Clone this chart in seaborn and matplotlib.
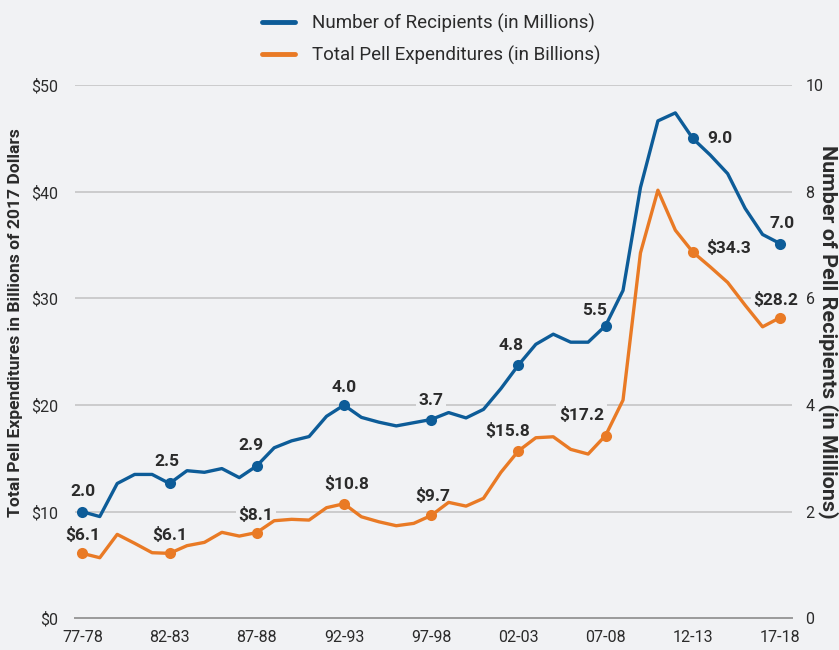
import matplotlib
matplotlib.use("Agg")
import matplotlib.pyplot as plt
from matplotlib.lines import Line2D
import seaborn as sns
import pandas as pd

# award years 1977-78 .. 2017-18 (start year)
years = list(range(1977, 2018))

recipients = [2.0, 1.91, 2.53, 2.70, 2.70, 2.53, 2.77, 2.74, 2.81, 2.64,
              2.86, 3.20, 3.33, 3.41, 3.79, 4.0, 3.77, 3.68, 3.61, 3.67,
              3.73, 3.86, 3.76, 3.92, 4.31, 4.75, 5.14, 5.33, 5.18, 5.18,
              5.49, 6.15, 8.08, 9.33, 9.48, 9.0, 8.69, 8.34, 7.69, 7.20,
              7.03]

expenditures = [6.1, 5.69, 7.88, 7.04, 6.16, 6.1, 6.82, 7.13, 8.07, 7.72,
                8.05, 9.16, 9.29, 9.22, 10.38, 10.75, 9.53, 9.06, 8.69, 8.91,
                9.65, 10.88, 10.53, 11.26, 13.7, 15.7, 16.94, 17.03, 15.85, 15.41,
                17.15, 20.47, 34.27, 40.15, 36.4, 34.35, 32.96, 31.5, 29.37, 27.34,
                28.2]

recip_labels = ["2.0", "2.5", "2.9", "4.0", "3.7", "4.8", "5.5", "9.0", "7.0"]
exp_labels = ["$6.1", "$6.1", "$8.1", "$10.8", "$9.7", "$15.8", "$17.2", "$34.3", "$28.2"]

# label offsets in pixels (dx, dy up) and horizontal alignment
recip_offsets = [(1, 20, "center"), (-3, 22, "center"), (-6, 20, "center"),
                 (0, 18, "center"), (0, 19, "center"), (-7, 20, "center"),
                 (-11, 15, "center"), (14, 0, "left"), (2, 20, "center")]
exp_offsets = [(0, 18, "center"), (0, 18, "center"), (-1, 18, "center"),
               (3, 20, "center"), (2, 19, "center"), (-11, 20, "center"),
               (-24, 21, "center"), (13, 4, "left"), (-4, 18, "center")]

BG = "#f1f2f4"
BLUE = "#0d5c98"
ORANGE = "#e97a25"
TXT = "#2b2b2b"

df = pd.DataFrame({"year": years, "recipients": recipients, "expenditures": expenditures})
marked = [i for i, y in enumerate(years) if (y - 1977) % 5 == 0]

sns.set_style("white")
plt.rcParams["font.family"] = ["Roboto", "DejaVu Sans"]

fig = plt.figure(figsize=(8.39, 6.5), dpi=100, facecolor=BG)
ax = fig.add_axes([0.0894, 0.0486, 0.9436 - 0.0894, 0.869 - 0.0486])
ax.set_facecolor(BG)
ax2 = ax.twinx()

sns.lineplot(data=df, x="year", y="expenditures", ax=ax, color=ORANGE, lw=2.4,
             marker="o", markersize=8, markeredgewidth=0, markevery=marked,
             label="Total Pell Expenditures (in Billions)", legend=False, zorder=3)
sns.lineplot(data=df, x="year", y="recipients", ax=ax2, color=BLUE, lw=2.4,
             marker="o", markersize=8, markeredgewidth=0, markevery=marked,
             label="Number of Recipients (in Millions)", legend=False, zorder=3)

ax.set_xlim(1976.58, 2017.67)
ax.set_ylim(0, 50)
ax2.set_ylim(0, 10)

ax.set_yticks([0, 10, 20, 30, 40, 50])
ax.set_yticklabels([f"${v}" for v in [0, 10, 20, 30, 40, 50]])
ax2.set_yticks([0, 2, 4, 6, 8, 10])
ax.set_xticks(years)
ax.set_xticklabels([f"{y % 100:02d}-{(y + 1) % 100:02d}" if (y - 1977) % 5 == 0 else ""
                    for y in years])

ax.tick_params(axis="y", length=0, pad=12, labelsize=11.5, labelcolor=TXT)
ax2.tick_params(axis="y", length=0, pad=10, labelsize=11.5, labelcolor=TXT)
ax.tick_params(axis="x", length=7, width=0.9, color="#9a9a9a", direction="out",
               pad=1, labelsize=11.5, labelcolor=TXT)

for v in [10, 20, 30, 40, 50]:
    ax.axhline(v, color="#c9c9c9", lw=1.3, zorder=0)

for a in (ax, ax2):
    for s in ["top", "left", "right"]:
        a.spines[s].set_visible(False)
ax2.spines["bottom"].set_visible(False)
ax.spines["bottom"].set_color("#9a9a9a")
ax.spines["bottom"].set_linewidth(1.4)

ax.set_xlabel("")
ylab_l = ax.set_ylabel("Total Pell Expenditures in Billions of 2017 Dollars", fontsize=12,
                       fontweight="bold", color=TXT, va="center", ha="center")
ax.yaxis.set_label_coords(-0.0837, 0.554)
ylab_r = ax2.set_ylabel("Number of Pell Recipients (in Millions)", fontsize=13,
                        fontweight="bold", color=TXT, rotation=270, va="center", ha="center")
ax2.yaxis.set_label_coords(1.051, 0.537)

# size the axis titles to the length they have in the original
fig.canvas.draw()
r = fig.canvas.get_renderer()
for lab, target in [(ylab_l, 387), (ylab_r, 372)]:
    h = lab.get_window_extent(r).height
    lab.set_fontsize(lab.get_fontsize() * target / h)

# labels live on the left axes so their boxes hide the grid but not the lines
px = 0.72
for k, i in enumerate(marked):
    dx, dy, ha = recip_offsets[k]
    ax.annotate(recip_labels[k], (years[i], recipients[i] * 5), xytext=(dx * px, dy * px),
                textcoords="offset points", ha=ha, va="center", fontsize=12.5,
                fontweight="bold", color=TXT, zorder=2,
                bbox=dict(boxstyle="square,pad=0.15", fc=BG, ec="none"))
    dx, dy, ha = exp_offsets[k]
    ax.annotate(exp_labels[k], (years[i], expenditures[i]), xytext=(dx * px, dy * px),
                textcoords="offset points", ha=ha, va="center", fontsize=12.5,
                fontweight="bold", color=TXT, zorder=2,
                bbox=dict(boxstyle="square,pad=0.15", fc=BG, ec="none"))

l1 = ax2.get_legend_handles_labels()[1]
l2 = ax.get_legend_handles_labels()[1]
handles = [Line2D([], [], color=BLUE, lw=3.5), Line2D([], [], color=ORANGE, lw=3.5)]
fig.legend(handles, l1 + l2, loc="upper center", bbox_to_anchor=(0.514, 1.005), ncol=1,
           frameon=False, fontsize=13.5, handlelength=1.8, labelspacing=0.7,
           handletextpad=0.9, labelcolor=TXT)

fig.savefig("out.png", dpi=100, facecolor=BG)
